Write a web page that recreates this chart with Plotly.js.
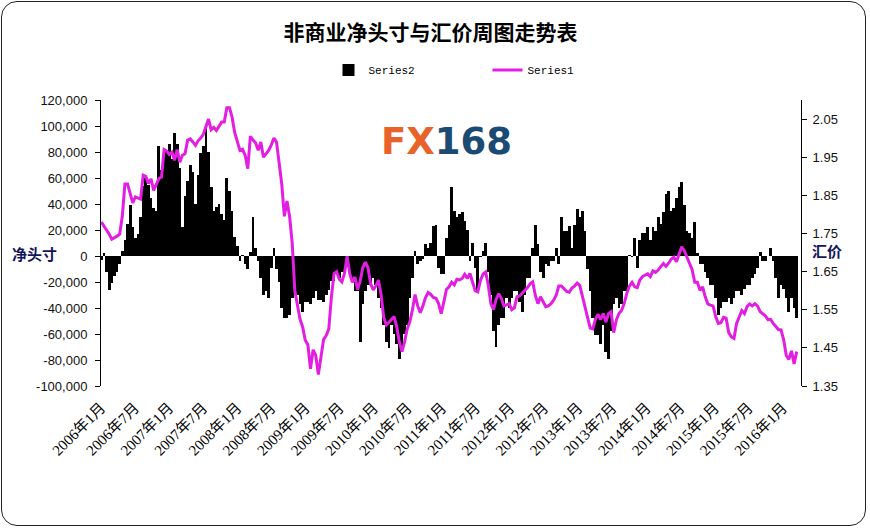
<!DOCTYPE html>
<html>
<head>
<meta charset="utf-8">
<script src="https://cdn.plot.ly/plotly-3.0.1.min.js"></script>
<style>
html,body{margin:0;padding:0;background:#fff;}
#wrap{position:relative;width:870px;height:530px;overflow:hidden;}
#chart{position:absolute;left:0;top:0;width:870px;height:530px;}
#frame{position:absolute;left:1px;top:1px;width:863px;height:523px;border:1.5px solid #222;border-radius:16px;pointer-events:none;}
</style>
</head>
<body>
<div id="wrap"><div id="chart"></div><div id="frame"></div></div>
<script>
// ---- data (bi-weekly readings) ----
const startDate = '2006-01-03';
const stepDays = 14;

const netPosition = [
 -3000, 2000, -12000, -26000, -21000, -15000, -12000, -6000, 4000, 12000,
 25000, 39000, 22000, 14000, 17000, 30000, 54000, 60000, 55000, 45000,
 37000, 35000, 85000, 66000, 78000, 80000, 86000, 75000, 95000, 86000,
 68000, 22000, 46000, 58000, 70000, 65000, 40000, 62000, 79000, 85000,
 99000, 80000, 53000, 35000, 38000, 40000, 32000, 28000, 60000, 50000,
 35000, 15000, 8000, -4000, 1000, -6000, -10000, 3000, 30000, 6000,
 -4000, -17000, -30000, -27000, -32000, -9000, 6000, -10000, -20000, -40000,
 -48000, -48000, -45000, -32000, -30000, -30000, -37000, -43000, -35000, -35000,
 -37000, -32000, -27000, -34000, -34000, -35000, -30000, -26000, -19000, -19000,
 -13000, -17000, -12000, -12000, -6000, -12000, -17000, -27000, -27000, -66000,
 -37000, -27000, -22000, -22000, -17000, -22000, -32000, -40000, -53000, -66000,
 -71000, -53000, -60000, -68000, -79000, -74000, -60000, -53000, -32000, -17000,
 4000, -6000, -4000, -2000, 9000, 6000, 10000, 23000, 24000, -9000,
 -14000, -14000, 14000, 24000, 53000, 35000, 30000, 32000, 34000, 27000,
 20000, -4000, 10000, -9000, -27000, -1000, 4000, 10000, -12000, -30000,
 -58000, -70000, -53000, -48000, -48000, -32000, -40000, -32000, -27000, -27000,
 -35000, -43000, -30000, -17000, -17000, 6000, 24000, 9000, -12000, -17000,
 -6000, -8000, -4000, -4000, 6000, -6000, 30000, 19000, 19000, 23000,
 6000, 24000, 36000, 30000, 35000, 19000, -10000, -27000, -48000, -61000,
 -61000, -68000, -53000, -74000, -79000, -58000, -37000, -32000, -40000, -37000,
 -27000, -27000, 1000, -1000, 14000, -9000, 12000, 18000, 18000, 22000,
 12000, 22000, 19000, 30000, 25000, 34000, 48000, 50000, 35000, 37000,
 45000, 53000, 57000, 39000, 19000, 18000, 14000, 26000, 2000, -6000,
 -6000, -12000, -17000, -22000, -22000, -32000, -45000, -40000, -35000, -35000,
 -32000, -37000, -32000, -27000, -27000, -30000, -25000, -22000, -22000, -17000,
 -14000, -9000, 3000, -4000, -4000, 0, 6000, -4000, -17000, -32000,
 -22000, -25000, -32000, -43000, -32000, -40000, -48000
];

const exchangeRate = [
 1.780, 1.770, 1.760, 1.748, 1.735, 1.738, 1.743, 1.748, 1.795, 1.880,
 1.880, 1.855, 1.830, 1.846, 1.842, 1.840, 1.903, 1.900, 1.881, 1.893,
 1.863, 1.878, 1.894, 1.898, 1.970, 1.966, 1.957, 1.963, 1.942, 1.970,
 1.937, 1.955, 1.959, 1.995, 1.998, 1.990, 1.981, 1.993, 2.000, 2.010,
 2.030, 2.050, 2.022, 2.028, 2.020, 2.033, 2.042, 2.042, 2.080, 2.080,
 2.055, 2.015, 1.988, 1.968, 1.971, 1.955, 1.920, 2.005, 1.995, 1.988,
 1.968, 1.990, 1.950, 1.960, 1.968, 1.982, 2.000, 1.990, 1.935, 1.880,
 1.795, 1.835, 1.795, 1.725, 1.600, 1.560, 1.525, 1.505, 1.470, 1.458,
 1.395, 1.445, 1.430, 1.380, 1.425, 1.472, 1.482, 1.500, 1.584, 1.645,
 1.650, 1.630, 1.623, 1.645, 1.690, 1.645, 1.622, 1.636, 1.603, 1.625,
 1.660, 1.675, 1.660, 1.618, 1.602, 1.612, 1.628, 1.590, 1.530, 1.510,
 1.517, 1.525, 1.532, 1.505, 1.465, 1.440, 1.466, 1.500, 1.518, 1.550,
 1.590, 1.560, 1.542, 1.560, 1.582, 1.595, 1.590, 1.582, 1.580, 1.566,
 1.540, 1.570, 1.603, 1.610, 1.622, 1.615, 1.630, 1.628, 1.632, 1.643,
 1.632, 1.645, 1.622, 1.600, 1.597, 1.627, 1.643, 1.649, 1.615, 1.566,
 1.550, 1.577, 1.592, 1.580, 1.560, 1.564, 1.566, 1.550, 1.555, 1.584,
 1.586, 1.593, 1.600, 1.608, 1.618, 1.623, 1.588, 1.566, 1.584, 1.570,
 1.558, 1.560, 1.566, 1.575, 1.588, 1.612, 1.612, 1.605, 1.598, 1.596,
 1.607, 1.612, 1.620, 1.614, 1.585, 1.558, 1.530, 1.502, 1.500, 1.525,
 1.538, 1.524, 1.540, 1.518, 1.540, 1.545, 1.490, 1.523, 1.540, 1.548,
 1.566, 1.593, 1.612, 1.622, 1.610, 1.608, 1.628, 1.637, 1.641, 1.644,
 1.637, 1.652, 1.648, 1.654, 1.663, 1.671, 1.664, 1.672, 1.683, 1.688,
 1.676, 1.695, 1.715, 1.705, 1.688, 1.671, 1.655, 1.622, 1.622, 1.601,
 1.610, 1.584, 1.565, 1.562, 1.560, 1.532, 1.514, 1.516, 1.530, 1.528,
 1.490, 1.479, 1.475, 1.514, 1.532, 1.548, 1.540, 1.558, 1.565, 1.560,
 1.566, 1.560, 1.545, 1.540, 1.534, 1.524, 1.525, 1.514, 1.505, 1.498,
 1.497, 1.472, 1.430, 1.420, 1.442, 1.408, 1.440
];

const xTickVals = ['2006-01-01','2006-07-01','2007-01-01','2007-07-01','2008-01-01','2008-07-01',
 '2009-01-01','2009-07-01','2010-01-01','2010-07-01','2011-01-01','2011-07-01','2012-01-01',
 '2012-07-01','2013-01-01','2013-07-01','2014-01-01','2014-07-01','2015-01-01','2015-07-01','2016-01-01'];
const xTickText = ['2006年1月','2006年7月','2007年1月','2007年7月','2008年1月','2008年7月',
 '2009年1月','2009年7月','2010年1月','2010年7月','2011年1月','2011年7月','2012年1月',
 '2012年7月','2013年1月','2013年7月','2014年1月','2014年7月','2015年1月','2015年7月','2016年1月'];
const leftTickVals = [-100000,-80000,-60000,-40000,-20000,0,20000,40000,60000,80000,100000,120000];
const leftTickText = ['-100,000','-80,000','-60,000','-40,000','-20,000','0','20,000','40,000','60,000','80,000','100,000','120,000'];
const rightTickVals = [1.35,1.45,1.55,1.65,1.75,1.85,1.95,2.05];
const rightTickText = ['1.35','1.45','1.55','1.65','1.75','1.85','1.95','2.05'];

// ---- build date categories ----
const dates = [];
const t0 = Date.parse(startDate + 'T00:00:00Z');
for (let i = 0; i < netPosition.length; i++) {
  dates.push(new Date(t0 + i * stepDays * 86400000).toISOString().slice(0, 10));
}

const leftRange = [-100000, 120000];
const rightRange = [1.35, 2.10];
const zeroPos = (0 - leftRange[0]) / (leftRange[1] - leftRange[0]);

const traces = [
  {type:'bar', name:'Series2', x:dates, y:netPosition, xaxis:'x', yaxis:'y',
   width: 15*86400000, marker:{color:'#000000', line:{width:0}}},
  {type:'scatter', mode:'lines', name:'Series1', x:dates, y:exchangeRate, xaxis:'x', yaxis:'y2',
   line:{color:'#e31ee3', width:3}}
];

const tickFont = {family:'Liberation Sans, Arial, sans-serif', size:13, color:'#111'};
const xRange = ['2006-01-01','2016-04-07'];

const layout = {
  width:870, height:530,
  margin:{l:101, r:69, t:100, b:144},
  paper_bgcolor:'#ffffff', plot_bgcolor:'rgba(0,0,0,0)',
  bargap:0,
  title:{text:'非商业净头寸与汇价周图走势表', xref:'container', x:0.4948, xanchor:'center',
         yref:'container', y:0.9377, yanchor:'middle',
         font:{family:'Noto Sans CJK SC, sans-serif', size:21, weight:700, color:'#000'}},
  showlegend:true,
  legend:{orientation:'h', x:0.325, xanchor:'left', y:1.105, yanchor:'middle',
          font:{family:'Liberation Mono, DejaVu Sans Mono, monospace', size:11, color:'#000'},
          entrywidth:114, entrywidthmode:'pixels', bgcolor:'rgba(0,0,0,0)', traceorder:'normal'},
  xaxis:{type:'date', range:xRange, tickmode:'array', tickvals:xTickVals, ticktext:xTickText,
         tickangle:-45, ticks:'', showline:false, showgrid:false, zeroline:false,
         ticklabelstandoff:9,
         tickfont:{family:'Liberation Serif, Noto Sans CJK SC, serif', size:15, color:'#000'}},
  xaxis2:{type:'date', overlaying:'x', matches:'x', anchor:'free', position:zeroPos, side:'bottom',
          range:xRange, tickmode:'array', tickvals:xTickVals, showticklabels:false,
          ticks:'outside', ticklen:5, tickcolor:'#000', showline:true, linecolor:'#000', linewidth:1,
          showgrid:false, zeroline:false},
  yaxis:{range:leftRange, tickmode:'array', tickvals:leftTickVals, ticktext:leftTickText,
         ticks:'outside', ticklen:5, tickcolor:'#000', showline:true, linecolor:'#000', linewidth:1,
         showgrid:false, zeroline:false, ticklabelstandoff:5, tickfont:tickFont},
  yaxis2:{overlaying:'y', side:'right', range:rightRange, tickmode:'array',
          tickvals:rightTickVals, ticktext:rightTickText,
          ticks:'outside', ticklen:5, tickcolor:'#000', showline:true, linecolor:'#000', linewidth:1,
          showgrid:false, zeroline:false, ticklabelstandoff:3, tickfont:tickFont},
  yaxis3:{overlaying:'y', side:'left', range:leftRange, tickmode:'array', tickvals:leftTickVals,
          showticklabels:false, ticks:'inside', ticklen:5, tickcolor:'#000', showline:false,
          showgrid:false, zeroline:false},
  yaxis4:{overlaying:'y', side:'right', range:rightRange, tickmode:'array', tickvals:rightTickVals,
          showticklabels:false, ticks:'inside', ticklen:5, tickcolor:'#000', showline:false,
          showgrid:false, zeroline:false},
  annotations:[
    {text:'净头寸', xref:'paper', yref:'paper', x:-0.0957, y:0.465, xanchor:'center', yanchor:'middle',
     showarrow:false, font:{family:'Noto Sans CJK SC, sans-serif', size:15, weight:700, color:'#14145a'}},
    {text:'汇价', xref:'paper', yref:'paper', x:1.037, y:0.4755, xanchor:'center', yanchor:'middle',
     showarrow:false, font:{family:'Noto Sans CJK SC, sans-serif', size:15, weight:700, color:'#14145a'}},
    {text:'<span style="color:#e8622a">FX</span><span style="color:#1b4a72">168</span>',
     xref:'paper', yref:'paper', x:0.4936, y:0.855, xanchor:'center', yanchor:'middle', showarrow:false,
     font:{family:'DejaVu Sans, sans-serif', size:37, weight:700}}
  ]
};

Plotly.newPlot('chart', traces, layout, {displayModeBar:false, staticPlot:true});
</script>
</body>
</html>
